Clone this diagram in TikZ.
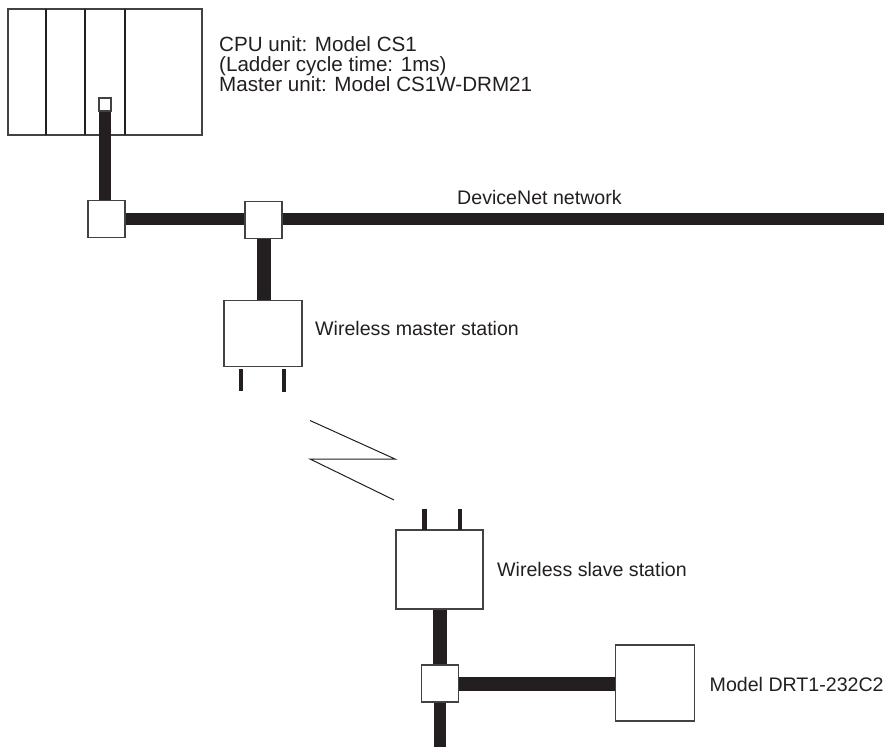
\documentclass[tikz,border=0pt]{standalone}
\usepackage{fontspec}
\usepackage{xcolor}
\setmainfont{Liberation Sans}
\definecolor{inkblack}{HTML}{231F20}
\tikzset{
  unitbox/.style={draw=inkblack!85,line width=1.2pt,fill=white,inner sep=0pt,minimum width=#1},
  tap/.style={draw=inkblack!85,line width=1.2pt,fill=white,inner sep=0pt,minimum width=37pt,minimum height=37pt},
  cable/.style={line width=14pt,inkblack},
  thincable/.style={line width=12pt,inkblack},
  antenna/.style={line width=4.4pt,inkblack},
  label/.style={inner sep=0pt,anchor=base west,text=inkblack,font=\fontsize{19.6}{18.6}\selectfont,align=left}
}
\begin{document}
\begin{tikzpicture}[x=1pt,y=-1pt]
\useasboundingbox (0,0) rectangle (886,747);
% PLC rack
\node[unitbox=194pt,minimum height=126pt] (plc) at (105,72) {};
\foreach \x in {45.5,85,124.5} \draw[line width=2pt,inkblack] (\x,8.5) -- (\x,135);
\node[unitbox=12pt,minimum height=13pt] (slot) at (105,104.5) {};
% taps
\node[tap] (tapa) at (106.5,219) {};
\node[tap] (tapb) at (263.5,220) {};
\node[tap] (tapc) at (440,683.5) {};
% stations
\node[unitbox=78pt,minimum height=66pt] (master) at (263,333.5) {};
\node[unitbox=87pt,minimum height=79pt] (slave) at (439.5,569.5) {};
\node[unitbox=79pt,minimum height=76pt] (drt) at (654.8,683) {};
\coordinate (busend) at (884,218.5);
\coordinate (dropend) at (439.5,747);
% cables
\draw[thincable] (slot.south) -- (slot.south |- tapa.north);
\draw[thincable] (tapa.east |- busend) -- (tapb.west |- busend);
\draw[thincable] (tapb.east |- busend) -- (busend);
\draw[cable] (tapb.south) -- (tapb.south |- master.north);
\draw[cable] (slave.south) -- (slave.south |- tapc.north);
\draw[thincable] (tapc.south -| dropend) -- (dropend);
\draw[cable] (tapc.east) ++(0,0.5) -- (drt.west |- 0,684);
% antennas
\draw[antenna] (241,369) -- (241,391);
\draw[antenna] (284,369) -- (284,392);
\draw[antenna] (424.5,508.5) -- (424.5,530);
\draw[antenna] (460,508.5) -- (460,530);
% radio link
\draw[line width=1pt,inkblack] (310,420.5) -- (395,459) -- (310,459) -- (394,500);
% labels
\node[label,font=\fontsize{20.6}{19.6}\selectfont] (cpu) at (219,91) {CPU unit: Model CS1\\(Ladder cycle time: 1ms)\\Master unit: Model CS1W-DRM21};
\node[label] (net) at (457,204) {DeviceNet network};
\node[label] (mtxt) at (315,335) {Wireless master station};
\node[label] (stxt) at (497,576.5) {Wireless slave station};
\node[label] (dtxt) at (709.5,691.5) {Model DRT1-232C2};
\end{tikzpicture}
\end{document}
